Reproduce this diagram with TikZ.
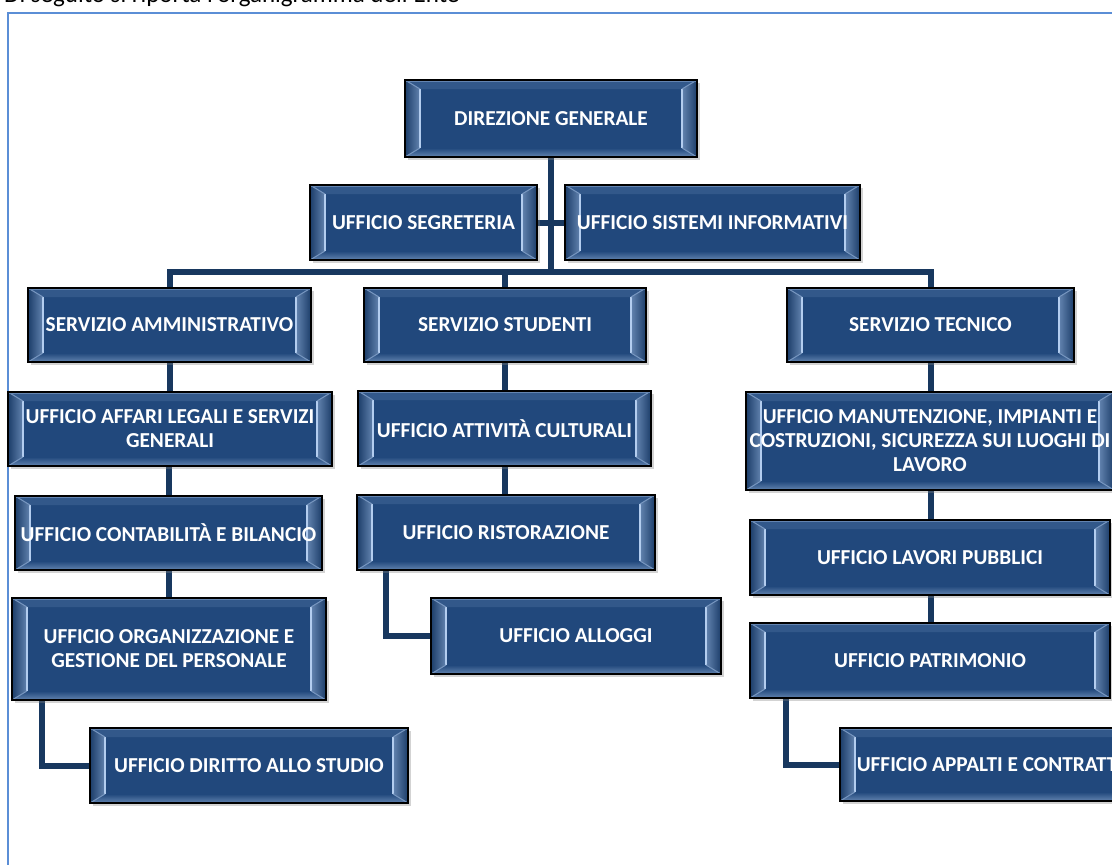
\documentclass[tikz,border=0pt]{standalone}
\usepackage{fontspec}
\setmainfont{Carlito}
\usetikzlibrary{shadows,backgrounds}
\definecolor{boxblue}{HTML}{21487C}
\definecolor{bevlight}{HTML}{B3CDEF}
\definecolor{linenavy}{HTML}{18385F}
\definecolor{framebl}{HTML}{5B8ED6}
\tikzset{
  orgbox/.style={draw=black, line width=1.3pt, fill=boxblue, text=white,
    font=\bfseries\fontsize{21.3}{24}\selectfont, align=center, inner sep=0pt,
    drop shadow={opacity=0.35, shadow xshift=2.5pt, shadow yshift=-3pt},
    path picture={
      \coordinate (pSW) at (path picture bounding box.south west);
      \coordinate (pNW) at (path picture bounding box.north west);
      \coordinate (pSE) at (path picture bounding box.south east);
      \coordinate (pNE) at (path picture bounding box.north east);
      \coordinate (iSW) at ([shift={(15pt,9pt)}]pSW);
      \coordinate (iNW) at ([shift={(15pt,-9pt)}]pNW);
      \coordinate (iSE) at ([shift={(-15pt,9pt)}]pSE);
      \coordinate (iNE) at ([shift={(-15pt,-9pt)}]pNE);
      \fill[left color=boxblue!85!black, right color=boxblue!55!bevlight]
        (pSW) -- (pNW) -- (iNW) -- (iSW) -- cycle;
      \fill[left color=boxblue!55!bevlight, right color=boxblue!85!black]
        (pSE) -- (pNE) -- (iNE) -- (iSE) -- cycle;
      \fill[boxblue!88!bevlight] (pNW) -- (pNE) -- (iNE) -- (iNW) -- cycle;
      \fill[top color=boxblue, bottom color=boxblue!55!bevlight]
        (pSW) -- (pSE) -- (iSE) -- (iSW) -- cycle;
      \draw[bevlight, line width=2.2pt] (iNW) -- (iSW);
      \draw[bevlight, line width=2.2pt] (iNE) -- (iSE);
      \draw[bevlight!60!boxblue, line width=1pt] (pNW) -- (iNW) (pSW) -- (iSW) (pNE) -- (iNE) (pSE) -- (iSE);
      \draw[bevlight!45!boxblue, line width=1.5pt] ([shift={(1.2pt,-1.2pt)}]pNW) -- ([shift={(-1.2pt,-1.2pt)}]pNE);
    }},
  conn/.style={draw=linenavy, line width=6pt},
  framestyle/.style={draw=framebl, line width=2pt}
}
\begin{document}
\begin{tikzpicture}[x=1pt,y=-1pt]
\useasboundingbox (0,0) rectangle (1112,865);
% intro line (cut off at top)
\node[anchor=base west, inner sep=0pt, font=\fontsize{25}{28}\selectfont] (intro) at (4,2.5)
  {Di seguito si riporta l'organigramma dell'Ente};
% boxes
\node[orgbox, minimum width=292pt, minimum height=77pt] (dg) at (551,118.5) {DIREZIONE GENERALE};
\node[orgbox, minimum width=227pt, minimum height=75pt] (seg) at (423.5,222.5) {UFFICIO SEGRETERIA};
\node[orgbox, minimum width=295pt, minimum height=75pt] (sis) at (712.5,222.5) {UFFICIO SISTEMI INFORMATIVI};
\node[orgbox, minimum width=283pt, minimum height=74pt] (sa) at (169.5,325) {SERVIZIO AMMINISTRATIVO};
\node[orgbox, minimum width=282pt, minimum height=74pt] (ss) at (505,325) {SERVIZIO STUDENTI};
\node[orgbox, minimum width=287pt, minimum height=74pt] (st) at (930.5,325) {SERVIZIO TECNICO};
\node[orgbox, minimum width=324pt, minimum height=74pt] (al) at (170,429) {UFFICIO AFFARI LEGALI E SERVIZI\\GENERALI};
\node[orgbox, minimum width=307pt, minimum height=74pt] (cb) at (168.5,533) {UFFICIO CONTABILITÀ E BILANCIO};
\node[orgbox, minimum width=314pt, minimum height=102pt] (og) at (169,649) {UFFICIO ORGANIZZAZIONE E\\GESTIONE DEL PERSONALE};
\node[orgbox, minimum width=318pt, minimum height=75pt] (ds) at (249,765.5) {UFFICIO DIRITTO ALLO STUDIO};
\node[orgbox, minimum width=293pt, minimum height=75pt] (ac) at (504.5,428.5) {UFFICIO ATTIVITÀ CULTURALI};
\node[orgbox, minimum width=298pt, minimum height=75pt] (ri) at (506,532.5) {UFFICIO RISTORAZIONE};
\node[orgbox, minimum width=290pt, minimum height=76pt] (alg) at (576,636) {UFFICIO ALLOGGI};
\node[orgbox, minimum width=368pt, minimum height=98pt] (ma) at (930,441) {UFFICIO MANUTENZIONE, IMPIANTI E\\COSTRUZIONI, SICUREZZA SUI LUOGHI DI\\LAVORO};
\node[orgbox, minimum width=360pt, minimum height=75pt] (lp) at (930,557.5) {UFFICIO LAVORI PUBBLICI};
\node[orgbox, minimum width=360pt, minimum height=75pt] (pa) at (930,660.5) {UFFICIO PATRIMONIO};
\node[orgbox, minimum width=300pt, minimum height=73pt] (ap) at (990,764.5) {UFFICIO APPALTI E CONTRATTI};
\coordinate (bus) at (551,272);
\begin{scope}[on background layer]
  \draw[framestyle] (8,900) -- (8,13) -- (1140,13);
  \draw[conn] (dg.south) -- (bus);
  \draw[conn] (seg.east) -- (sis.west);
  \draw[conn] (sa.north) |- (bus) -| (st.north);
  \draw[conn] (ss.north) -- (ss.north |- bus);
  \draw[conn] (sa.south) -- (sa.south |- al.north);
  \draw[conn] (al.south -| cb.north) -- (cb.north);
  \draw[conn] (cb.south) -- (cb.south |- og.north);
  \draw[conn] ([xshift=31pt]og.south west) |- (ds.west);
  \draw[conn] (ss.south) -- (ss.south |- ac.north);
  \draw[conn] (ac.south -| ss.south) -- (ss.south |- ri.north);
  \draw[conn] ([xshift=30pt]ri.south west) |- (alg.west);
  \draw[conn] (st.south) -- (st.south |- ma.north);
  \draw[conn] (ma.south -| st.south) -- (st.south |- lp.north);
  \draw[conn] (lp.south -| st.south) -- (st.south |- pa.north);
  \draw[conn] ([xshift=37pt]pa.south west) |- (ap.west);
\end{scope}
\end{tikzpicture}
\end{document}
